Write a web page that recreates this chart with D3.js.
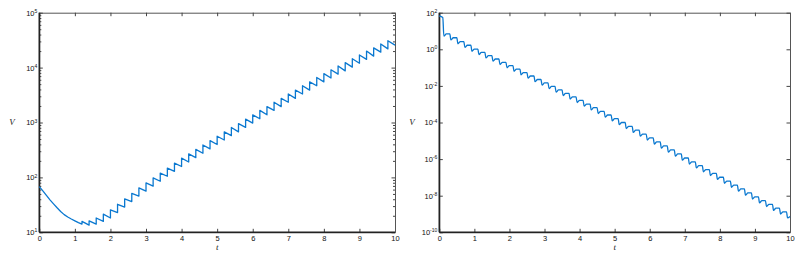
<!DOCTYPE html>
<html>
<head>
<meta charset="utf-8">
<script src="https://cdn.jsdelivr.net/npm/d3@7"></script>
<style>
  body { margin: 0; background: #fff; }
  svg { display: block; }
  .tick text { font-family: "Liberation Sans", Arial, sans-serif; font-size: 7.5px; fill: #111; }
  .lbl { font-family: "Liberation Serif", "Times New Roman", serif; font-style: italic; font-size: 9px; fill: #222; }
</style>
</head>
<body>
<svg id="chart" width="808" height="253"></svg>
<script>
// ---- left panel: V grows, sawtooth from impulses ----
const leftDecayT = [0, 0.1, 0.2, 0.3, 0.4, 0.5, 0.6, 0.7, 0.8, 0.9, 1.0, 1.1];
const leftDecayV = [68, 57, 47, 39, 33, 28, 24, 21, 19, 17.5, 16.2, 15];
const leftJumpT = [1.2, 1.4, 1.6, 1.8, 2.0, 2.2, 2.4, 2.6, 2.8, 3.0, 3.2, 3.4, 3.6, 3.8, 4.0,
  4.2, 4.4, 4.6, 4.8, 5.0, 5.2, 5.4, 5.6, 5.8, 6.0, 6.2, 6.4, 6.6, 6.8, 7.0, 7.2, 7.4, 7.6,
  7.8, 8.0, 8.2, 8.4, 8.6, 8.8, 9.0, 9.2, 9.4, 9.6, 9.8];
const leftTrough = [14.1, 13.5, 14.1, 15.8, 18.2, 22.9, 28.8, 36.3, 45.7, 56.2, 69.2, 85.1,
  105, 129, 158, 191, 229, 275, 331, 398, 479, 575, 676, 813, 977, 1170, 1380, 1660, 1950,
  2340, 2750, 3310, 3890, 4680, 5500, 6460, 7590, 8710, 10200, 12000, 14100, 16200, 19100, 21900];
const leftPeak = [15.8, 16.2, 18.2, 21.4, 25.7, 32.4, 40.7, 51.3, 64.6, 79.4, 97.7, 120,
  148, 182, 224, 269, 324, 389, 468, 562, 676, 813, 955, 1150, 1380, 1660, 1950, 2340, 2750,
  3310, 3890, 4680, 5500, 6610, 7760, 9120, 10700, 12300, 14500, 17000, 20000, 22900, 26900, 30900];
const leftEndT = 10, leftEndV = 25700;

// ---- right panel: V decays, wavy staircase ----
const rightStartT = [0, 0.1];
const rightStartV = [66, 55];
const rightDropT = [0.1, 0.3, 0.5, 0.7, 0.9, 1.1, 1.3, 1.5, 1.7, 1.9, 2.1, 2.3, 2.5, 2.7, 2.9,
  3.1, 3.3, 3.5, 3.7, 3.9, 4.1, 4.3, 4.5, 4.7, 4.9, 5.1, 5.3, 5.5, 5.7, 5.9, 6.1, 6.3, 6.5,
  6.7, 6.9, 7.1, 7.3, 7.5, 7.7, 7.9, 8.1, 8.3, 8.5, 8.7, 8.9, 9.1, 9.3, 9.5, 9.7, 9.9];
const rightLowT = [0.13, 0.33, 0.53, 0.73, 0.93, 1.13, 1.33, 1.53, 1.73, 1.93, 2.13, 2.33,
  2.53, 2.73, 2.93, 3.13, 3.33, 3.53, 3.73, 3.93, 4.13, 4.33, 4.53, 4.73, 4.93, 5.13, 5.33,
  5.53, 5.73, 5.93, 6.13, 6.33, 6.53, 6.73, 6.93, 7.13, 7.33, 7.53, 7.73, 7.93, 8.13, 8.33,
  8.53, 8.73, 8.93, 9.13, 9.33, 9.53, 9.73, 9.93];
const rightRiseT = [0.2, 0.4, 0.6, 0.8, 1.0, 1.2, 1.4, 1.6, 1.8, 2.0, 2.2, 2.4, 2.6, 2.8, 3.0,
  3.2, 3.4, 3.6, 3.8, 4.0, 4.2, 4.4, 4.6, 4.8, 5.0, 5.2, 5.4, 5.6, 5.8, 6.0, 6.2, 6.4, 6.6,
  6.8, 7.0, 7.2, 7.4, 7.6, 7.8, 8.0, 8.2, 8.4, 8.6, 8.8, 9.0, 9.2, 9.4, 9.6, 9.8, 10.0];
const rightLow = [5.25, 3.24, 2.00, 1.26, 0.776, 0.513, 0.339, 0.224, 0.148, 0.0977, 0.0631,
  0.0407, 0.0263, 0.0170, 0.0110, 7.08e-3, 4.57e-3, 2.95e-3, 1.91e-3, 1.23e-3, 7.76e-4,
  4.90e-4, 3.09e-4, 1.95e-4, 1.23e-4, 7.59e-5, 4.68e-5, 2.88e-5, 1.78e-5, 1.10e-5, 6.61e-6,
  3.98e-6, 2.40e-6, 1.45e-6, 8.71e-7, 5.37e-7, 3.31e-7, 2.04e-7, 1.26e-7, 7.76e-8, 4.79e-8,
  2.88e-8, 1.78e-8, 1.07e-8, 6.61e-9, 4.07e-9, 2.57e-9, 1.58e-9, 1.00e-9, 6.17e-10];
const rightHigh = [6.92, 4.27, 2.63, 1.66, 1.02, 0.676, 0.447, 0.295, 0.195, 0.129, 0.0832,
  0.0537, 0.0347, 0.0224, 0.0145, 9.33e-3, 6.03e-3, 3.89e-3, 2.51e-3, 1.62e-3, 1.02e-3,
  6.46e-4, 4.07e-4, 2.57e-4, 1.62e-4, 1.00e-4, 6.17e-5, 3.80e-5, 2.34e-5, 1.45e-5, 8.71e-6,
  5.25e-6, 3.16e-6, 1.91e-6, 1.15e-6, 7.08e-7, 4.37e-7, 2.69e-7, 1.66e-7, 1.02e-7, 6.31e-8,
  3.80e-8, 2.34e-8, 1.41e-8, 8.71e-9, 5.37e-9, 3.39e-9, 2.09e-9, 1.32e-9, 7.4e-10];

const xTicks = [0, 1, 2, 3, 4, 5, 6, 7, 8, 9, 10];
const leftYTicks = [1e1, 1e2, 1e3, 1e4, 1e5];
const rightYTicks = [1e-10, 1e-8, 1e-6, 1e-4, 1e-2, 1e0, 1e2];

// build point lists
const leftPts = leftDecayT.map((t, i) => [t, leftDecayV[i]]);
leftJumpT.forEach((t, i) => { leftPts.push([t, leftTrough[i]], [t, leftPeak[i]]); });
leftPts.push([leftEndT, leftEndV]);

const rightPts = rightStartT.map((t, i) => [t, rightStartV[i]]);
rightDropT.forEach((t, i) => {
  if (i > 0) rightPts.push([t, rightHigh[i - 1]]);
  rightPts.push([rightLowT[i], rightLow[i]], [rightRiseT[i], rightHigh[i]]);
});

const svg = d3.select("#chart");
const plotTop = 12.7, plotBottom = 232.3;

function panel(x0, x1, yDomain, yTicks, minor, pts, curve, labX, labY) {
  const x = d3.scaleLinear().domain([0, 10]).range([x0, x1]);
  const y = d3.scaleLog().domain(yDomain).range([plotBottom, plotTop]);
  const g = svg.append("g");

  const sup = sel => sel.each(function(d) {
    const t = d3.select(this).text(null);
    t.append("tspan").text("10");
    t.append("tspan").attr("dy", "-0.55em").attr("font-size", "5px")
      .text(String(Math.round(Math.log10(d))));
  });

  if (minor) {
    g.append("g").attr("transform", `translate(${x0},0)`)
      .call(d3.axisLeft(y).tickValues(minor).tickSize(-2).tickFormat(""))
      .call(a => a.select(".domain").remove());
    g.append("g").attr("transform", `translate(${x1},0)`)
      .call(d3.axisRight(y).tickValues(minor).tickSize(-2).tickFormat(""))
      .call(a => a.select(".domain").remove());
  }

  g.append("g").attr("transform", `translate(0,${plotBottom})`)
    .call(d3.axisBottom(x).tickValues(xTicks).tickSize(-3.5).tickSizeOuter(0).tickPadding(3).tickFormat(d3.format("d")));
  g.append("g").attr("transform", `translate(0,${plotTop})`)
    .call(d3.axisTop(x).tickValues(xTicks).tickSize(-3.5).tickSizeOuter(0).tickFormat(""));
  g.append("g").attr("transform", `translate(${x0},0)`)
    .call(d3.axisLeft(y).tickValues(yTicks).tickSize(-3.5).tickSizeOuter(0).tickPadding(2))
    .call(a => a.selectAll(".tick text").call(sup));
  g.append("g").attr("transform", `translate(${x1},0)`)
    .call(d3.axisRight(y).tickValues(yTicks).tickSize(-3.5).tickSizeOuter(0).tickFormat(""));

  g.selectAll(".domain").attr("stroke", "#555");
  g.selectAll(".tick line").attr("stroke", "#444");

  // heavier left and bottom edges
  g.append("line").attr("x1", x0).attr("x2", x0).attr("y1", plotTop).attr("y2", plotBottom)
    .attr("stroke", "#222").attr("stroke-width", 1.6);
  g.append("line").attr("x1", x0).attr("x2", x1).attr("y1", plotBottom).attr("y2", plotBottom)
    .attr("stroke", "#222").attr("stroke-width", 1.6);

  g.append("path").datum(pts)
    .attr("fill", "none").attr("stroke", "#0a78d0").attr("stroke-width", 1.3)
    .attr("stroke-linejoin", "round")
    .attr("d", d3.line().curve(curve).x(d => x(d[0])).y(d => y(d[1])));

  g.append("text").attr("class", "lbl").attr("x", labX).attr("y", labY + 3)
    .attr("text-anchor", "middle").text("V");
  g.append("text").attr("class", "lbl").attr("x", (x0 + x1) / 2).attr("y", 250)
    .attr("text-anchor", "middle").text("t");
}

const leftMinor = [];
[1e1, 1e2, 1e3, 1e4].forEach(p => [2, 3, 4, 5, 6, 7, 8, 9].forEach(m => leftMinor.push(m * p)));

panel(39.3, 395, [1e1, 1e5], leftYTicks, leftMinor, leftPts, d3.curveLinear, 12, 122);
panel(439.3, 790, [1e-10, 1e2], rightYTicks, null, rightPts, d3.curveMonotoneX, 412, 122);
</script>
</body>
</html>
